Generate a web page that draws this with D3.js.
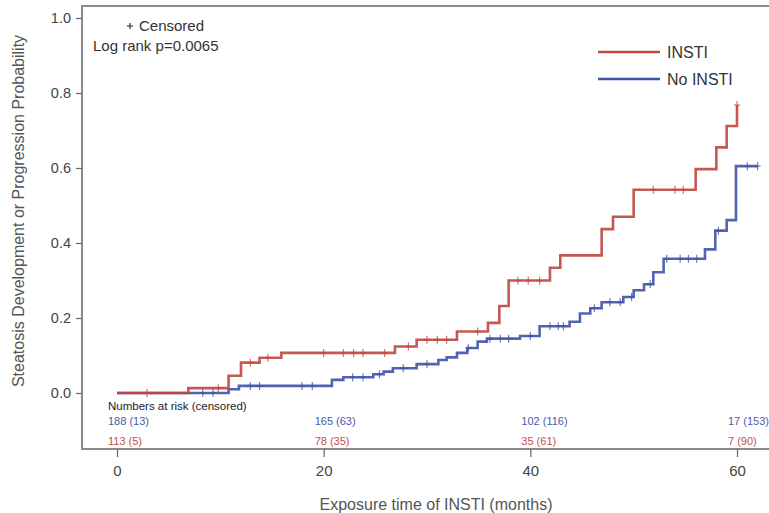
<!DOCTYPE html>
<html>
<head>
<meta charset="utf-8">
<script src="https://cdn.jsdelivr.net/npm/d3@7"></script>
<style>
  html, body { margin: 0; padding: 0; background: #fff; }
  svg { display: block; font-family: "Liberation Sans", Arial, sans-serif; }
</style>
</head>
<body>
<svg id="chart" width="769" height="513"></svg>
<script>
// ---------------- data ----------------
const instiTimes = [0, 6.9, 10.8, 12.0, 13.8, 15.9, 26.9, 29.0, 32.9, 35.9, 37.0, 37.9, 41.9, 42.9, 46.9, 48.0, 50.0, 56.0, 58.0, 59.0, 60.0];
const instiProbs = [0, 0.013, 0.046, 0.081, 0.094, 0.107, 0.124, 0.142, 0.164, 0.187, 0.232, 0.300, 0.334, 0.367, 0.437, 0.470, 0.542, 0.597, 0.655, 0.712, 0.768];
const instiEnd = 60.0;
const instiCensored = [2.9, 9.8, 12.9, 14.6, 20, 21.9, 22.9, 23.8, 25.9, 28.2, 30, 31, 31.9, 34.9, 38.8, 39.8, 40.9, 51.9, 54, 54.8, 60];

const noInstiTimes = [0, 10.8, 11.8, 20.8, 21.9, 24.8, 25.8, 26.7, 29.0, 31.1, 31.9, 32.9, 33.9, 34.9, 35.8, 39.0, 40.9, 43.8, 44.8, 45.8, 46.9, 49.0, 50.0, 51.0, 51.9, 52.9, 56.9, 57.9, 59.0, 59.9];
const noInstiProbs = [0, 0.010, 0.019, 0.035, 0.042, 0.050, 0.057, 0.066, 0.077, 0.088, 0.095, 0.107, 0.120, 0.137, 0.145, 0.152, 0.178, 0.190, 0.212, 0.226, 0.242, 0.256, 0.274, 0.290, 0.322, 0.358, 0.383, 0.433, 0.461, 0.605];
const noInstiEnd = 62.0;
const noInstiCensored = [8.3, 9.3, 12.9, 13.8, 17.9, 18.9, 22.8, 23.8, 25.4, 27.7, 30, 34, 36.1, 37.1, 37.9, 40, 41.9, 42.7, 43.2, 46.2, 47.7, 48.7, 49.8, 51.6, 53.2, 54.5, 55.3, 56.1, 58.2, 61, 62];

const xTicks = [0, 20, 40, 60];
const yTicks = [0.0, 0.2, 0.4, 0.6, 0.8, 1.0];
const riskTimes = [0, 20, 40, 60];
const riskNoInsti = ["188 (13)", "165 (63)", "102 (116)", "17 (153)"];
const riskInsti = ["113 (5)", "78 (35)", "35 (61)", "7 (90)"];

const seriesNames = ["INSTI", "No INSTI"];
const seriesColors = ["#c0463f", "#3e52a8"];
const riskColors = ["#c0504d", "#4a5ca8"];

// ---------------- chart ----------------
const svg = d3.select("#chart");
const x = d3.scaleLinear().domain([0, 60]).range([117, 737]);
const y = d3.scaleLinear().domain([0, 1]).range([393, 18]);

const frameLeft = 82, frameTop = 6, frameBottom = 449;

// frame
svg.append("rect")
  .attr("x", frameLeft).attr("y", frameTop)
  .attr("width", 769 - frameLeft + 10).attr("height", frameBottom - frameTop)
  .attr("fill", "none").attr("stroke", "#8a8a8a").attr("stroke-width", 2);

// y axis
const yAxis = svg.append("g")
  .attr("transform", `translate(${frameLeft},0)`)
  .call(d3.axisLeft(y).tickValues(yTicks).tickFormat(d3.format(".1f")).tickSize(6).tickPadding(5));
yAxis.select(".domain").remove();
yAxis.selectAll("line").attr("stroke", "#666").attr("stroke-width", 1.2);
yAxis.selectAll("text").attr("font-size", 14.5).attr("fill", "#444").attr("font-family", "Liberation Sans, Arial, sans-serif");

// x axis
const xAxis = svg.append("g")
  .attr("transform", `translate(0,${frameBottom})`)
  .call(d3.axisBottom(x).tickValues(xTicks).tickFormat(d3.format("d")).tickSize(8).tickPadding(8));
xAxis.select(".domain").remove();
xAxis.selectAll("line").attr("stroke", "#666").attr("stroke-width", 1.2);
xAxis.selectAll("text").attr("font-size", 15).attr("fill", "#444").attr("font-family", "Liberation Sans, Arial, sans-serif");

// axis titles
svg.append("text")
  .attr("transform", "translate(24,211) rotate(-90)")
  .attr("text-anchor", "middle")
  .attr("font-size", 16).attr("fill", "#555")
  .text("Steatosis Development or Progression Probability");

svg.append("text")
  .attr("x", 436).attr("y", 510)
  .attr("text-anchor", "middle")
  .attr("font-size", 16).attr("fill", "#555")
  .text("Exposure time of INSTI (months)");

// curves
function stepValue(times, probs, t) {
  let v = probs[0];
  for (let i = 0; i < times.length; i++) { if (times[i] <= t + 1e-9) v = probs[i]; }
  return v;
}
const series = [
  { times: instiTimes, probs: instiProbs, end: instiEnd, cens: instiCensored, color: seriesColors[0] },
  { times: noInstiTimes, probs: noInstiProbs, end: noInstiEnd, cens: noInstiCensored, color: seriesColors[1] }
];
const line = d3.line().x(d => x(d[0])).y(d => y(d[1])).curve(d3.curveStepAfter);

// draw No INSTI first, then INSTI on top
[series[1], series[0]].forEach(s => {
  const pts = s.times.map((t, i) => [t, s.probs[i]]);
  pts.push([s.end, s.probs[s.probs.length - 1]]);
  svg.append("path").datum(pts)
    .attr("d", line)
    .attr("fill", "none").attr("stroke", s.color).attr("stroke-width", 2.6).attr("opacity", 0.9);
  const g = svg.append("g").attr("stroke", s.color).attr("stroke-width", 1.2).attr("opacity", 0.75);
  s.cens.forEach(t => {
    const cx = x(t), cy = y(stepValue(s.times, s.probs, t));
    g.append("line").attr("x1", cx).attr("x2", cx).attr("y1", cy - 4).attr("y2", cy + 4);
    g.append("line").attr("x1", cx - 3).attr("x2", cx + 3).attr("y1", cy).attr("y2", cy);
  });
});

// censored legend + log rank
const cg = svg.append("g").attr("stroke", "#444").attr("stroke-width", 1.3);
cg.append("line").attr("x1", 130).attr("x2", 130).attr("y1", 23).attr("y2", 29);
cg.append("line").attr("x1", 127).attr("x2", 133).attr("y1", 26).attr("y2", 26);
svg.append("text").attr("x", 139).attr("y", 31).attr("font-size", 15).attr("fill", "#333").text("Censored");
svg.append("text").attr("x", 93).attr("y", 51).attr("font-size", 15).attr("fill", "#333").text("Log rank p=0.0065");

// series legend
seriesNames.forEach((name, i) => {
  const ly = 52 + i * 27;
  svg.append("line").attr("x1", 598).attr("x2", 660).attr("y1", ly).attr("y2", ly)
    .attr("stroke", seriesColors[i]).attr("stroke-width", 2.6);
  svg.append("text").attr("x", 667).attr("y", ly + 5.5).attr("font-size", 16).attr("fill", "#333").text(name);
});

// numbers at risk
svg.append("text").attr("x", 108).attr("y", 410).attr("font-size", 11.5).attr("fill", "#222")
  .text("Numbers at risk (censored)");
svg.append("g").selectAll("text").data(riskNoInsti).join("text")
  .attr("x", (d, i) => x(riskTimes[i]) - 9).attr("y", 424.5)
  .attr("font-size", 11).attr("fill", riskColors[1]).text(d => d);
svg.append("g").selectAll("text").data(riskInsti).join("text")
  .attr("x", (d, i) => x(riskTimes[i]) - 9).attr("y", 444.5)
  .attr("font-size", 11).attr("fill", riskColors[0]).text(d => d);
</script>
</body>
</html>
